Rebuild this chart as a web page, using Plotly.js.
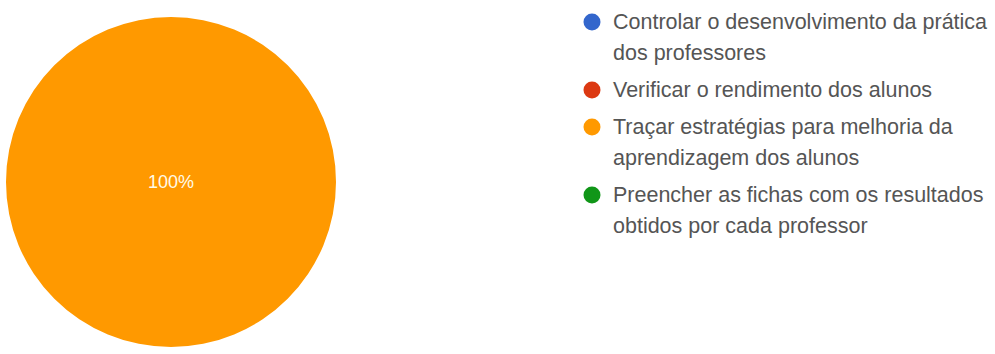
<!DOCTYPE html>
<html><head><meta charset="utf-8">
<script src="https://cdn.plot.ly/plotly-3.0.1.min.js"></script>
<style>html,body{margin:0;padding:0;background:#fff}#chart{width:995px;height:354px}</style>
</head><body><div id="chart"></div>
<script>
const categories = [
  ["Controlar o desenvolvimento da prática", "dos professores"],
  ["Verificar o rendimento dos alunos"],
  ["Traçar estratégias para melhoria da", "aprendizagem dos alunos"],
  ["Preencher as fichas com os resultados", "obtidos por cada professor"]
];
const values = [0, 0, 100, 0];
const colors = ["#3366cc", "#dc3912", "#ff9900", "#109618"];

const W = 995, H = 354;
const FONT = "Liberation Sans, Arial, sans-serif";

const pie = {
  type: "pie",
  labels: categories.map(c => c.join(" ")),
  values: values,
  sort: false,
  direction: "clockwise",
  marker: {colors: colors, line: {width: 0}},
  textinfo: "percent",
  textposition: "inside",
  insidetextfont: {color: "#fffbe8", size: 18, family: FONT},
  showlegend: false,
  hoverinfo: "label+percent",
  domain: {x: [0.00603, 0.33769], y: [0.01977, 0.95198]}
};

// custom legend (circle symbols, first-line aligned)
const legX = 592, textX = 611, firstY = 22, lineGap = 31, itemGap = 37, dotD = 17;
const annotations = [], shapes = [];
let y = firstY;
categories.forEach((lines, i) => {
  shapes.push({
    type: "circle", xref: "paper", yref: "paper",
    xsizemode: "pixel", ysizemode: "pixel",
    xanchor: legX / W, yanchor: 1 - y / H,
    x0: -dotD / 2, x1: dotD / 2, y0: -dotD / 2, y1: dotD / 2,
    fillcolor: colors[i], line: {width: 0}
  });
  lines.forEach((t, j) => {
    if (j > 0) y += lineGap;
    annotations.push({
      xref: "paper", yref: "paper", x: textX / W, y: 1 - y / H,
      xanchor: "left", yanchor: "middle", showarrow: false, text: t,
      font: {family: FONT, size: 21.5, color: "#555555"}
    });
  });
  y += itemGap;
});

Plotly.newPlot("chart", [pie], {
  width: W, height: H,
  margin: {l: 0, r: 0, t: 0, b: 0},
  paper_bgcolor: "#fff",
  showlegend: false,
  annotations: annotations,
  shapes: shapes
}, {displayModeBar: false, staticPlot: true});
</script></body></html>
